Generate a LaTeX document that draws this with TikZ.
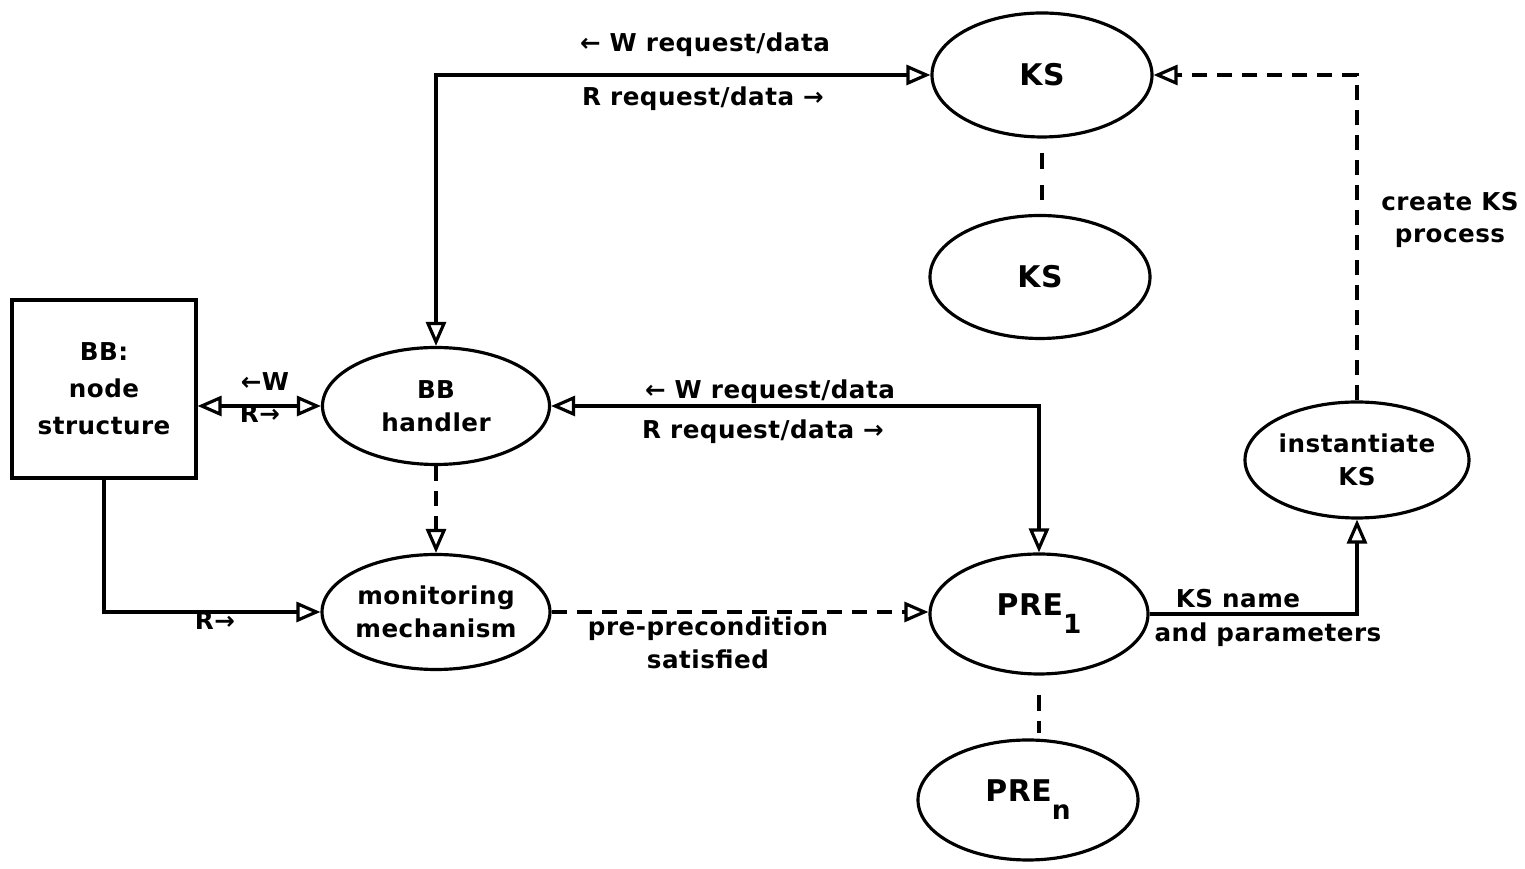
\documentclass[tikz,border=0pt]{standalone}
\usepackage{fontspec}
\setmainfont[LetterSpace=2]{DejaVu Sans}
\usepackage{tikz}
\usetikzlibrary{arrows.meta,shapes.geometric}

\newcommand{\lowsub}[1]{\raisebox{-0.6em}{\fontsize{15}{15}\selectfont\bfseries #1}}

\begin{document}
\begin{tikzpicture}[
        line width=1.8pt,
        every node/.style={font=\fontsize{14}{18.5}\selectfont\bfseries, align=center},
        proc/.style={draw, ellipse, inner sep=0pt},
        big/.style={font=\fontsize{17}{20}\selectfont\bfseries},
        onetip/.style={-{Triangle[open,length=0.48cm,width=0.4cm]}},
        dbltip/.style={{Triangle[open,length=0.48cm,width=0.4cm]}-{Triangle[open,length=0.48cm,width=0.4cm]}},
        dashline/.style={dash pattern=on 0.3cm off 0.2cm},
        gapline/.style={dash pattern=on 0.33cm off 0.32cm, shorten <=0.28cm, shorten >=0.28cm}]
        \useasboundingbox (0,0) rectangle (30.5,17.38);
        \node[draw, minimum width=3.68cm, minimum height=3.56cm, inner sep=0pt, font=\fontsize{14}{21}\selectfont\bfseries] (BB) at (2.08, 9.6) {BB:\\node\\structure};
        \node[proc, minimum width=4.54cm, minimum height=2.34cm] (hand) at (8.72, 9.26) {BB\\handler};
        \node[proc, minimum width=4.44cm, minimum height=2.3cm] (mon) at (8.72, 5.14) {monitoring\\mechanism};
        \node[proc, big, minimum width=4.4cm, minimum height=2.48cm] (KS) at (20.84, 15.88) {KS};
        \node[proc, big, minimum width=4.4cm, minimum height=2.46cm] (KSn) at (20.8, 11.84) {KS};
        \node[proc, minimum width=4.48cm, minimum height=2.32cm] (inst) at (27.14, 8.18) {instantiate\\KS};
        \node[proc, big, minimum width=4.36cm, minimum height=2.4cm] (PRE) at (20.78, 5.1) {PRE\lowsub{1}};
        \node[proc, big, minimum width=4.4cm, minimum height=2.4cm] (PREn) at (20.56, 1.38) {PRE\lowsub{n}};
        \node (tW) at (14.1, 16.48) {← W request/data};
        \node (tR) at (14.06, 15.4) {R request/data →};
        \node (mW) at (15.4, 9.54) {← W request/data};
        \node (mR) at (15.26, 8.74) {R request/data →};
        \node (bW) at (5.3, 9.74) {←W};
        \node (bR) at (5.2, 9.1) {R→};
        \node (lR) at (4.3, 4.96) {R→};
        \node (sat) at (14.16, 4.52) {pre-precondition\\satisfied};
        \node (ksname) at (24.76, 5.4) {KS name};
        \node (param) at (25.36, 4.68) {and parameters};
        \node (create) at (29.0, 12.98) {create KS\\process};
        \draw[dbltip] (hand.north) |- (KS.west);
        \draw[onetip, dashline] (inst.north) |- (KS.east);
        \draw[dbltip] (hand.east) -| (PRE.north);
        \draw[dbltip] (BB.east |- hand.west) -- (hand.west);
        \draw[onetip] (BB.south) |- (mon.west);
        \draw[onetip, dashline] (hand.south) -- (mon.north);
        \draw[onetip, dashline] (mon.east) -- (mon.east -| PRE.west);
        \draw[onetip] (PRE.east) -| (inst.south);
        \draw[gapline] (KS.south) -- (KS.south |- KSn.north);
        \draw[dash pattern=on 0.32cm off 0.2cm, shorten <=0.38cm, shorten >=0.1cm] (PRE.south) -- (PRE.south |- PREn.north);
\end{tikzpicture}
\end{document}
